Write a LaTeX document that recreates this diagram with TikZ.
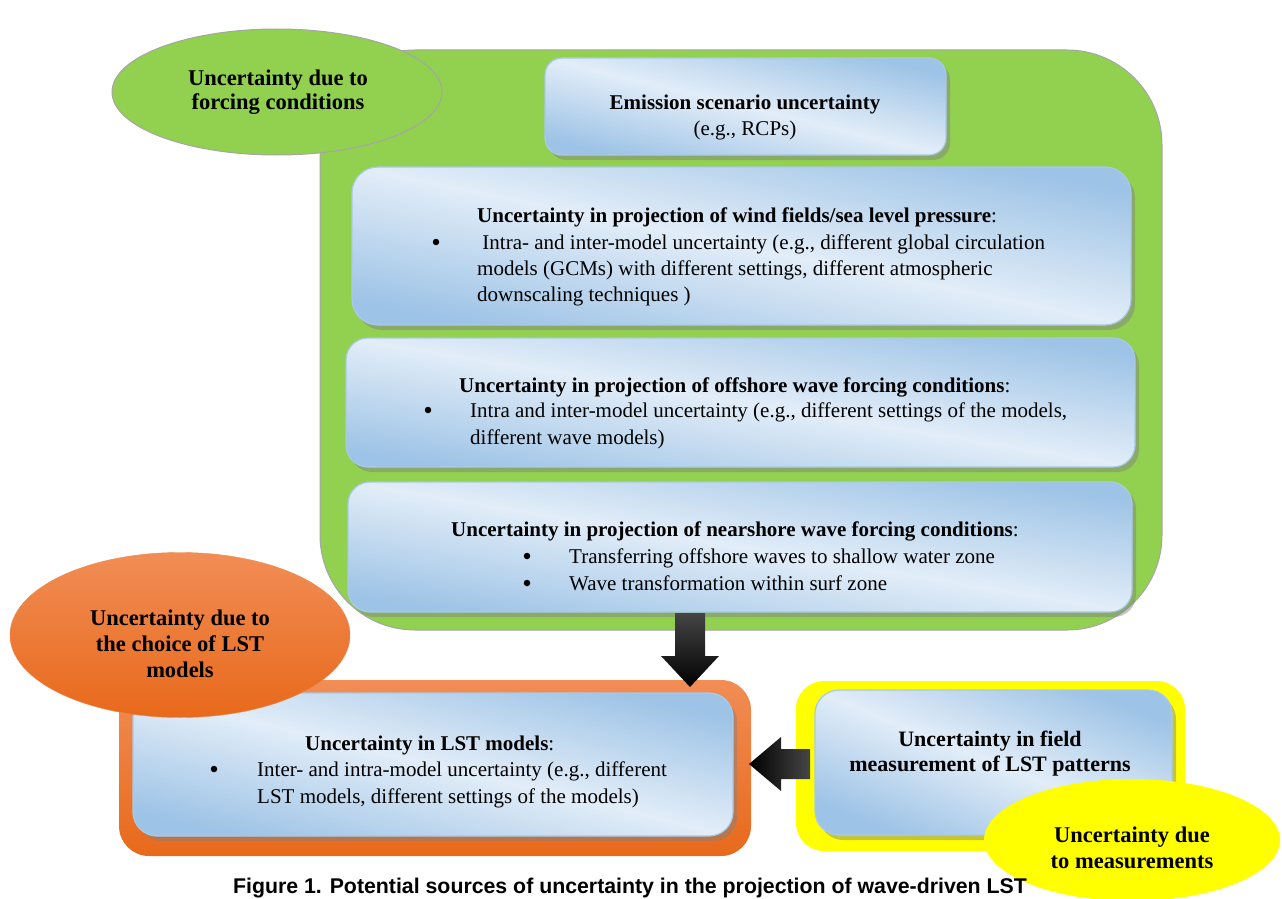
\documentclass[tikz,border=0pt]{standalone}
\usepackage{fontspec}
\setmainfont{Liberation Serif}
\newfontfamily\capfont{Liberation Sans}
\usetikzlibrary{shadows,calc,shapes.geometric}

\definecolor{grassgreen}{HTML}{92D050}
\definecolor{rimgray}{HTML}{A5A5A5}
\definecolor{bluelight}{HTML}{E2EDF8}
\definecolor{bluedark}{HTML}{9DC3E6}
\definecolor{blueedge}{HTML}{A9C9E9}
\definecolor{orangetop}{HTML}{F18D55}
\definecolor{orangebot}{HTML}{E8691B}
\definecolor{brightyellow}{HTML}{FFFF00}
\definecolor{arrowgray}{HTML}{454545}

\tikzset{
  panel/.style={rectangle, inner sep=0pt},
  % light band runs along the box diagonal; the tilt is passed per box
  bluebox/.style={rectangle, inner sep=0pt, draw=blueedge, line width=1.2pt,
    top color=bluedark, bottom color=bluedark, middle color=bluelight,
    shading angle=#1,
    drop shadow={opacity=0.45, shadow xshift=4pt, shadow yshift=-5pt}},
  bluebox/.default=-12,
  oval/.style={ellipse, inner sep=0pt},
  body/.style={font=\fontsize{21}{26}\selectfont, inner sep=0pt, anchor=base west},
  bodyc/.style={font=\fontsize{21}{26}\selectfont, inner sep=0pt, anchor=base},
  head/.style={font=\bfseries\fontsize{22.5}{26}\selectfont, inner sep=0pt, anchor=base},
  dot/.style={circle, fill=black, inner sep=0pt, minimum size=6.5pt},
}

\begin{document}
\begin{tikzpicture}[x=1pt, y=-1pt]
\useasboundingbox (0,0) rectangle (1282,899);

% ---------- model uncertainty (orange) ----------
\node[panel, rounded corners=30pt, top color=orangetop, bottom color=orangebot,
      minimum width=632pt, minimum height=176pt] (lstpanel) at (435,768) {};
\node[bluebox=-13.4, rounded corners=24pt, minimum width=600pt, minimum height=143pt] (lst) at (433,764.5) {};
\node[oval, top color=orangetop, bottom color=orangebot, draw=orangebot!80,
      minimum width=340pt, minimum height=165pt] (lstoval) at (180,635) {};
\node[head] (lo1) at (180,625) {Uncertainty due to};
\node[head] (lo2) at (180,651) {the choice of LST};
\node[head] (lo3) at (180,677) {models};

\node[body] (lt0) at (305,750) {\textbf{Uncertainty in LST models}:};
\node[dot] (lb1) at (214,769) {};
\node[body] (lt1) at (257,776) {Inter- and intra-model uncertainty (e.g., different};
\node[body] (lt2) at (257,803) {LST models, different settings of the models)};

% ---------- forcing uncertainty (green) ----------
\node[panel, draw=rimgray, line width=1pt, fill=grassgreen, rounded corners=95pt,
      minimum width=842pt, minimum height=580pt] (forcing) at (741,340) {};
\node[oval, draw=rimgray, line width=1pt, fill=grassgreen,
      minimum width=330pt, minimum height=126pt] (forcingoval) at (277,92) {};
\node[head] (fo1) at (278,85) {Uncertainty due to};
\node[head] (fo2) at (278,110) {forcing conditions};

% emission scenarios
\node[bluebox=-13.6, rounded corners=17pt, minimum width=401pt, minimum height=97pt] (emis) at (745.5,106.5) {};
\node[bodyc] (e1) at (745,110) {\textbf{Emission scenario uncertainty}};
\node[bodyc] (e2) at (745,135) {(e.g., RCPs)};

% wind fields
\node[bluebox=-11.5, rounded corners=26pt, minimum width=779pt, minimum height=158pt] (wind) at (741.5,246) {};
\node[body] (w0) at (477,222) {\textbf{Uncertainty in projection of wind fields/sea level pressure}:};
\node[dot] (wb) at (436,242) {};
\node[body] (w1) at (477,249) {\ Intra- and inter-model uncertainty (e.g., different global circulation};
\node[body] (w2) at (477,275) {models (GCMs) with different settings, different atmospheric};
\node[body] (w3) at (477,301) {downscaling techniques )};

% offshore waves
\node[bluebox=-9.3, rounded corners=22pt, minimum width=789pt, minimum height=129pt] (off) at (740.5,402.5) {};
\node[body] (o0) at (459,392) {\textbf{Uncertainty in projection of offshore wave forcing conditions}:};
\node[dot] (ob) at (428,410) {};
\node[body] (o1) at (470,417) {Intra and inter-model uncertainty (e.g., different settings of the models,};
\node[body] (o2) at (470,444) {different wave models)};

% nearshore waves
\node[bluebox=-9.4, rounded corners=22pt, minimum width=784pt, minimum height=130pt] (near) at (740,547) {};
\node[body] (n0) at (451,536) {\textbf{Uncertainty in projection of nearshore wave forcing conditions}:};
\node[dot] (nb1) at (527,556) {};
\node[dot] (nb2) at (527,583) {};
\node[body] (n1) at (569,563) {Transferring offshore waves to shallow water zone};
\node[body] (n2) at (569,590) {Wave transformation within surf zone};

% ---------- measurement uncertainty (yellow) ----------
\node[panel, rounded corners=28pt, fill=brightyellow,
      minimum width=389pt, minimum height=170pt] (fieldpanel) at (990.5,766) {};
\node[bluebox=-22, rounded corners=24pt, minimum width=357pt, minimum height=145pt] (field) at (993.5,762.5) {};
\node[head, font=\bfseries\fontsize{22}{25}\selectfont] (f1) at (990,746) {Uncertainty in field};
\node[head, font=\bfseries\fontsize{22}{25}\selectfont] (f2) at (990,771) {measurement of LST patterns};
\node[oval, fill=brightyellow, minimum width=296pt, minimum height=122pt] (fieldoval) at (1132,840) {};
\node[head] (mo1) at (1132,842) {Uncertainty due};
\node[head] (mo2) at (1132,868) {to measurements};

% ---------- block arrows ----------
\coordinate (downTail) at (690,613);
\coordinate (downTip) at (690,687);
\shade[top color=arrowgray, bottom color=black]
  ($(downTail)+(-15,0)$) -- ++(30,0) -- ++(0,43) -- ++(14,0) -- (downTip)
  -- ++(-29,-31) -- ++(14,0) -- cycle;

\coordinate (leftTail) at (810,764);
\coordinate (leftTip) at (749,764);
\shade[left color=black, right color=arrowgray]
  ($(leftTail)+(0,-15)$) -- ++(0,30) -- ++(-29,0) -- ++(0,12) -- (leftTip)
  -- ++(32,-27) -- ++(0,12) -- cycle;

% ---------- caption ----------
\node[inner sep=0pt, anchor=base, font=\capfont\bfseries\fontsize{21.3}{24}\selectfont] (caption)
  at (630,893) {Figure 1. Potential sources of uncertainty in the projection of wave-driven LST};
\end{tikzpicture}
\end{document}
